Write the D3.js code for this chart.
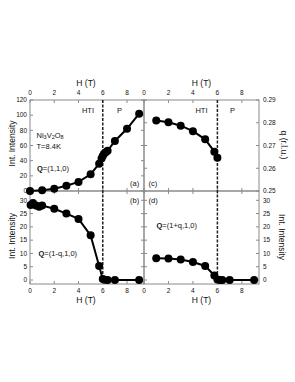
<!DOCTYPE html>
<html>
<head>
<meta charset="utf-8">
<script src="https://cdn.jsdelivr.net/npm/d3@7"></script>
<style>
  body { margin: 0; background: #fff; }
  svg text { font-family: Arial, "Liberation Sans", sans-serif; fill: #111; }
</style>
</head>
<body>
<div id="chart"></div>
<script>
// data
var hTicks = [0, 2, 4, 6, 8];
var hTransition = 6;

// (a) Q=(1,1,0)
var aField = [0, 1, 2, 3, 4, 5, 5.7, 5.9, 6, 6.1, 6.25, 6.4, 7, 8, 9];
var aInt   = [0, 1, 3, 7, 12, 22, 36, 43, 46, 49, 51, 53, 66, 82, 102];

// (b) Q=(1-q,1,0)
var bField = [0.05, 0.25, 0.5, 0.75, 1, 2, 3, 4, 5, 5.7, 6, 6.15, 6.4, 7, 9];
var bInt   = [28.2, 29, 28, 27.6, 28, 26.8, 25, 23, 16.8, 5.3, 0.4, 0.1, 0, 0, 0];

// (c) incommensurate q
var cField = [1, 2, 3, 4, 5, 5.75, 6];
var cQ     = [0.281, 0.2802, 0.2787, 0.2763, 0.2727, 0.2673, 0.2646];

// (d) Q=(1+q,1,0)
var dField = [1, 2, 3, 4, 5, 5.75, 6, 6.2, 6.4, 7, 9];
var dInt   = [8.2, 8.1, 7.7, 6.8, 5.3, 1.7, 0.2, 0, 0, 0, 0];

var upIntTicks = [0, 20, 40, 60, 80, 100, 120];
var qTicks = [0.25, 0.26, 0.27, 0.28, 0.29];
var lowIntTicks = [0, 5, 10, 15, 20, 25, 30];

var width = 295, height = 382;

var svg = d3.select("#chart")
  .append("svg")
    .attr("width", width)
    .attr("height", height);

// panel geometry
var colL = [30, 144], colR = [144, 259];
var rowU = [100, 191], rowD = [191, 284];

var xL = d3.scaleLinear().domain([0, 9.4]).range(colL);
var xR = d3.scaleLinear().domain([0, 9.4]).range(colR);
var yA = d3.scaleLinear().domain([0, 120]).range([rowU[1], rowU[0]]);
var yC = d3.scaleLinear().domain([0.25, 0.29]).range([rowU[1], rowU[0]]);
var yB = d3.scaleLinear().domain([-1.5, 33.5]).range([rowD[1], rowD[0]]);
var yD = yB;

var tickLen = 3;

// one framed panel with inward ticks on every side
function drawPanel(x, y, yTicks, opts) {
  var g = svg.append("g");
  var x0 = x.range()[0], x1 = x.range()[1];
  var y0 = y.range()[1], y1 = y.range()[0];

  g.append("rect")
    .attr("x", x0).attr("y", y0)
    .attr("width", x1 - x0).attr("height", y1 - y0)
    .attr("fill", "none")
    .attr("stroke", "#8a8a8a")
    .attr("stroke-width", 1);

  // x ticks top + bottom
  hTicks.forEach(function(t) {
    g.append("line").attr("x1", x(t)).attr("x2", x(t))
      .attr("y1", y0).attr("y2", y0 + tickLen).attr("stroke", "#8a8a8a");
    g.append("line").attr("x1", x(t)).attr("x2", x(t))
      .attr("y1", y1).attr("y2", y1 - tickLen).attr("stroke", "#8a8a8a");
  });
  // y ticks left + right
  yTicks.forEach(function(t) {
    g.append("line").attr("x1", x0).attr("x2", x0 + tickLen)
      .attr("y1", y(t)).attr("y2", y(t)).attr("stroke", "#8a8a8a");
    g.append("line").attr("x1", x1).attr("x2", x1 - tickLen)
      .attr("y1", y(t)).attr("y2", y(t)).attr("stroke", "#8a8a8a");
  });

  // tick labels
  if (opts.topLabels) {
    g.selectAll(".tt").data(hTicks).enter().append("text")
      .attr("x", function(d) { return x(d); })
      .attr("y", y0 - 5)
      .attr("text-anchor", "middle")
      .attr("font-size", "6.5px")
      .text(function(d) { return d; });
  }
  if (opts.bottomLabels) {
    g.selectAll(".bt").data(hTicks).enter().append("text")
      .attr("x", function(d) { return x(d); })
      .attr("y", y1 + 9)
      .attr("text-anchor", "middle")
      .attr("font-size", "6.5px")
      .text(function(d) { return d; });
  }
  if (opts.leftLabels) {
    g.selectAll(".lt").data(yTicks).enter().append("text")
      .attr("x", x0 - 3)
      .attr("y", function(d) { return y(d) + 2.3; })
      .attr("text-anchor", "end")
      .attr("font-size", "6.5px")
      .text(function(d) { return d; });
  }
  if (opts.rightLabels) {
    g.selectAll(".rt").data(yTicks).enter().append("text")
      .attr("x", x1 + 4)
      .attr("y", function(d) { return y(d) + 2.3; })
      .attr("text-anchor", "start")
      .attr("font-size", "6.5px")
      .text(opts.rightFormat || function(d) { return d; });
  }
  return g;
}

function drawSeries(x, y, xs, ys) {
  var pts = xs.map(function(d, i) { return [d, ys[i]]; });
  var line = d3.line()
    .x(function(d) { return x(d[0]); })
    .y(function(d) { return y(d[1]); });
  svg.append("path")
    .datum(pts)
    .attr("d", line)
    .attr("fill", "none")
    .attr("stroke", "#000")
    .attr("stroke-width", 2);
  svg.selectAll(null)
    .data(pts)
    .enter()
    .append("circle")
      .attr("cx", function(d) { return x(d[0]); })
      .attr("cy", function(d) { return y(d[1]); })
      .attr("r", 4)
      .attr("fill", "#000");
}

drawPanel(xL, yA, upIntTicks, {topLabels: true, leftLabels: true});
drawPanel(xR, yC, qTicks, {topLabels: true, rightLabels: true,
  rightFormat: function(d) { return d3.format(".2f")(d); }});
drawPanel(xL, yB, lowIntTicks, {bottomLabels: true, leftLabels: true});
drawPanel(xR, yD, lowIntTicks, {bottomLabels: true, rightLabels: true});

// dashed line at the HTI -> P transition
[xL, xR].forEach(function(x) {
  svg.append("line")
    .attr("x1", x(hTransition)).attr("x2", x(hTransition))
    .attr("y1", rowU[0]).attr("y2", rowD[1])
    .attr("stroke", "#222")
    .attr("stroke-width", 1.5)
    .attr("stroke-dasharray", "3,1.5");
});

drawSeries(xL, yA, aField, aInt);
drawSeries(xL, yB, bField, bInt);
drawSeries(xR, yC, cField, cQ);
drawSeries(xR, yD, dField, dInt);

// axis titles
function title(x, y, txt, rot) {
  var t = svg.append("text")
    .attr("text-anchor", "middle")
    .attr("font-size", "8.5px")
    .attr("transform", "translate(" + x + "," + y + ") rotate(" + rot + ")")
    .text(txt);
  return t;
}
title(86, 86, "H (T)", 0);
title(201.5, 86, "H (T)", 0);
title(86, 303, "H (T)", 0);
title(201.5, 303, "H (T)", 0);
title(15, 143.5, "Int. Intensity", -90);
title(15, 236, "Int. Intensity", -90);
title(280.5, 145, "q (r.l.u.)", 90);
title(279, 237, "Int. Intensity", 90);

// annotations
function note(x, y, anchor) {
  return svg.append("text")
    .attr("x", x).attr("y", y)
    .attr("text-anchor", anchor || "start")
    .attr("font-size", "7.5px");
}
note(88, 112.5, "middle").text("HTI");
note(119.5, 112.5, "middle").text("P");
note(201.5, 112.5, "middle").text("HTI");
note(232.5, 112.5, "middle").text("P");

var ni = note(36.5, 137.5);
ni.append("tspan").text("Ni");
ni.append("tspan").attr("font-size", "5.5px").attr("dy", 1.8).text("3");
ni.append("tspan").attr("dy", -1.8).text("V");
ni.append("tspan").attr("font-size", "5.5px").attr("dy", 1.8).text("2");
ni.append("tspan").attr("dy", -1.8).text("O");
ni.append("tspan").attr("font-size", "5.5px").attr("dy", 1.8).text("8");
note(36.5, 148.5).text("T=8.4K");

function qNote(x, y, rest) {
  var t = note(x, y);
  t.append("tspan").attr("font-weight", "bold").text("Q");
  t.append("tspan").text(rest);
}
qNote(37, 171, "=(1,1,0)");
qNote(38.5, 256, "=(1-q,1,0)");
qNote(156.5, 227.5, "=(1+q,1,0)");

note(130, 186).text("(a)");
note(130, 203).text("(b)");
note(148.5, 186).text("(c)");
note(148.5, 203).text("(d)");
</script>
</body>
</html>
